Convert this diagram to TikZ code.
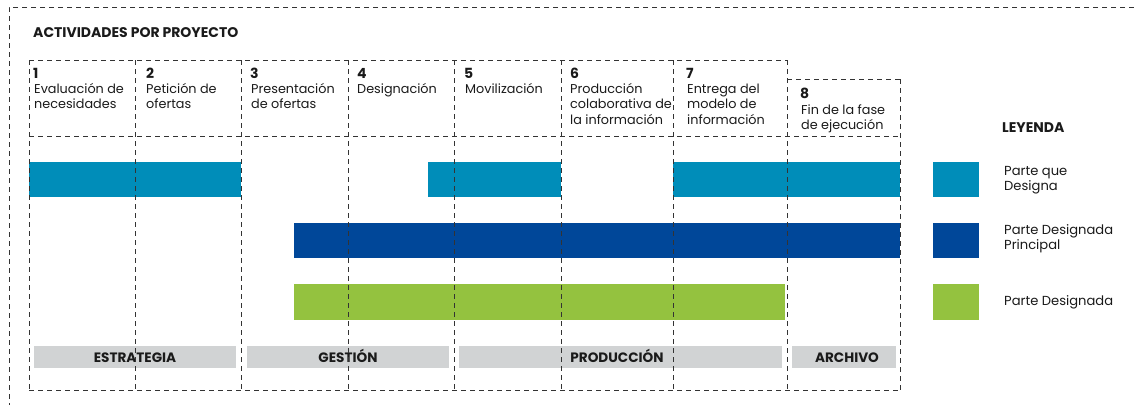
\documentclass[tikz,border=0pt]{standalone}
\usepackage{fontspec}
\setmainfont{Poppins}
\definecolor{pqd}{RGB}{0,141,185}
\definecolor{pdp}{RGB}{0,71,153}
\definecolor{pdg}{RGB}{148,194,63}
\definecolor{phasegray}{RGB}{209,211,212}
\definecolor{txt}{RGB}{26,26,26}
\tikzset{
  gridline/.style={draw=black!80, line width=0.8pt, dash pattern=on 5pt off 4pt},
  numtxt/.style={anchor=base west, inner sep=0pt, text=txt, font=\fontsize{14}{15}\selectfont\bfseries},
  headtxt/.style={anchor=base west, inner sep=0pt, text=txt, font=\fontsize{12.8}{15.5}\selectfont},
  phasebox/.style={fill=phasegray, draw=none},
  phasetxt/.style={inner sep=0pt, text=txt, font=\fontsize{13.6}{14}\selectfont\bfseries},
  legtxt/.style={anchor=base west, inner sep=0pt, text=txt, font=\fontsize{13.1}{15.5}\selectfont},
}
\begin{document}
\begin{tikzpicture}[x=1pt,y=-1pt]
\useasboundingbox (0,0) rectangle (1134,405);
% outer frame
\coordinate (oa) at (1134,7);
\coordinate (ob) at (9,7);
\coordinate (oc) at (9,405);
\draw[gridline] (oa) -- (ob) -- (oc);
% title
\node[anchor=base west, inner sep=0pt, text=txt, font=\fontsize{14}{14}\selectfont\bfseries] (title) at (33,37) {ACTIVIDADES POR PROYECTO};
% bars
\fill[pqd] (29,162) rectangle (241,197);
\fill[pqd] (428,162) rectangle (561,197);
\fill[pqd] (673,162) rectangle (900,197);
\fill[pdp] (294,223) rectangle (900,258);
\fill[pdg] (294,284) rectangle (785,320);
% phase boxes
\fill[phasebox] (34,346) rectangle (236,368);
\fill[phasebox] (247,346) rectangle (449,368);
\fill[phasebox] (459,346) rectangle (782,368);
\fill[phasebox] (792,346) rectangle (896,368);
\node[phasetxt, anchor=base] (p1) at (135,362) {ESTRATEGIA};
\node[phasetxt, anchor=base] (p2) at (348,362) {GESTIÓN};
\node[phasetxt, anchor=base] (p3) at (617,362) {PRODUCCIÓN};
\node[phasetxt, anchor=base] (p4) at (847,362) {ARCHIVO};
% grid
\draw[gridline] (29,60) -- (787,60);
\draw[gridline] (787,79) -- (900,79);
\draw[gridline] (29,136) -- (900,136);
\draw[gridline] (29,390) -- (900,390);
\foreach \xx in {29,135,241,348,454,561,673,787} {
  \draw[gridline] (\xx,60) -- (\xx,390);
}
\draw[gridline] (900,79) -- (900,390);
% headers
\node[numtxt] (n1) at (33,78) {1};
\node[headtxt] (h1a) at (34,93) {Evaluación de};
\node[headtxt] (h1b) at (34,108.5) {necesidades};
\node[numtxt] (n2) at (146,78) {2};
\node[headtxt] (h2a) at (146,93) {Petición de};
\node[headtxt] (h2b) at (146,108.5) {ofertas};
\node[numtxt] (n3) at (250,78) {3};
\node[headtxt] (h3a) at (251,93) {Presentación};
\node[headtxt] (h3b) at (251,108.5) {de ofertas};
\node[numtxt] (n4) at (357,78) {4};
\node[headtxt] (h4a) at (357,93) {Designación};
\node[numtxt] (n5) at (464,78) {5};
\node[headtxt] (h5a) at (465,93) {Movilización};
\node[numtxt] (n6) at (570,78) {6};
\node[headtxt] (h6a) at (570,93) {Producción};
\node[headtxt] (h6b) at (570,108.5) {colaborativa de};
\node[headtxt] (h6c) at (570,124) {la información};
\node[numtxt] (n7) at (686,78) {7};
\node[headtxt] (h7a) at (687,93) {Entrega del};
\node[headtxt] (h7b) at (687,108.5) {modelo de};
\node[headtxt] (h7c) at (687,124) {información};
\node[numtxt] (n8) at (800,98) {8};
\node[headtxt] (h8a) at (801,114) {Fin de la fase};
\node[headtxt] (h8b) at (801,129.5) {de ejecución};
% legend
\node[anchor=base west, inner sep=0pt, text=txt, font=\fontsize{14}{14}\selectfont\bfseries] (leg) at (1002,132) {LEYENDA};
\fill[pqd] (933,162) rectangle (979,197);
\fill[pdp] (933,223) rectangle (979,258);
\fill[pdg] (933,284) rectangle (979,320);
\node[legtxt] (l1a) at (1004,175) {Parte que};
\node[legtxt] (l1b) at (1004,190.5) {Designa};
\node[legtxt] (l2a) at (1004,234) {Parte Designada};
\node[legtxt] (l2b) at (1004,249.5) {Principal};
\node[legtxt] (l3a) at (1004,305) {Parte Designada};
\end{tikzpicture}
\end{document}
